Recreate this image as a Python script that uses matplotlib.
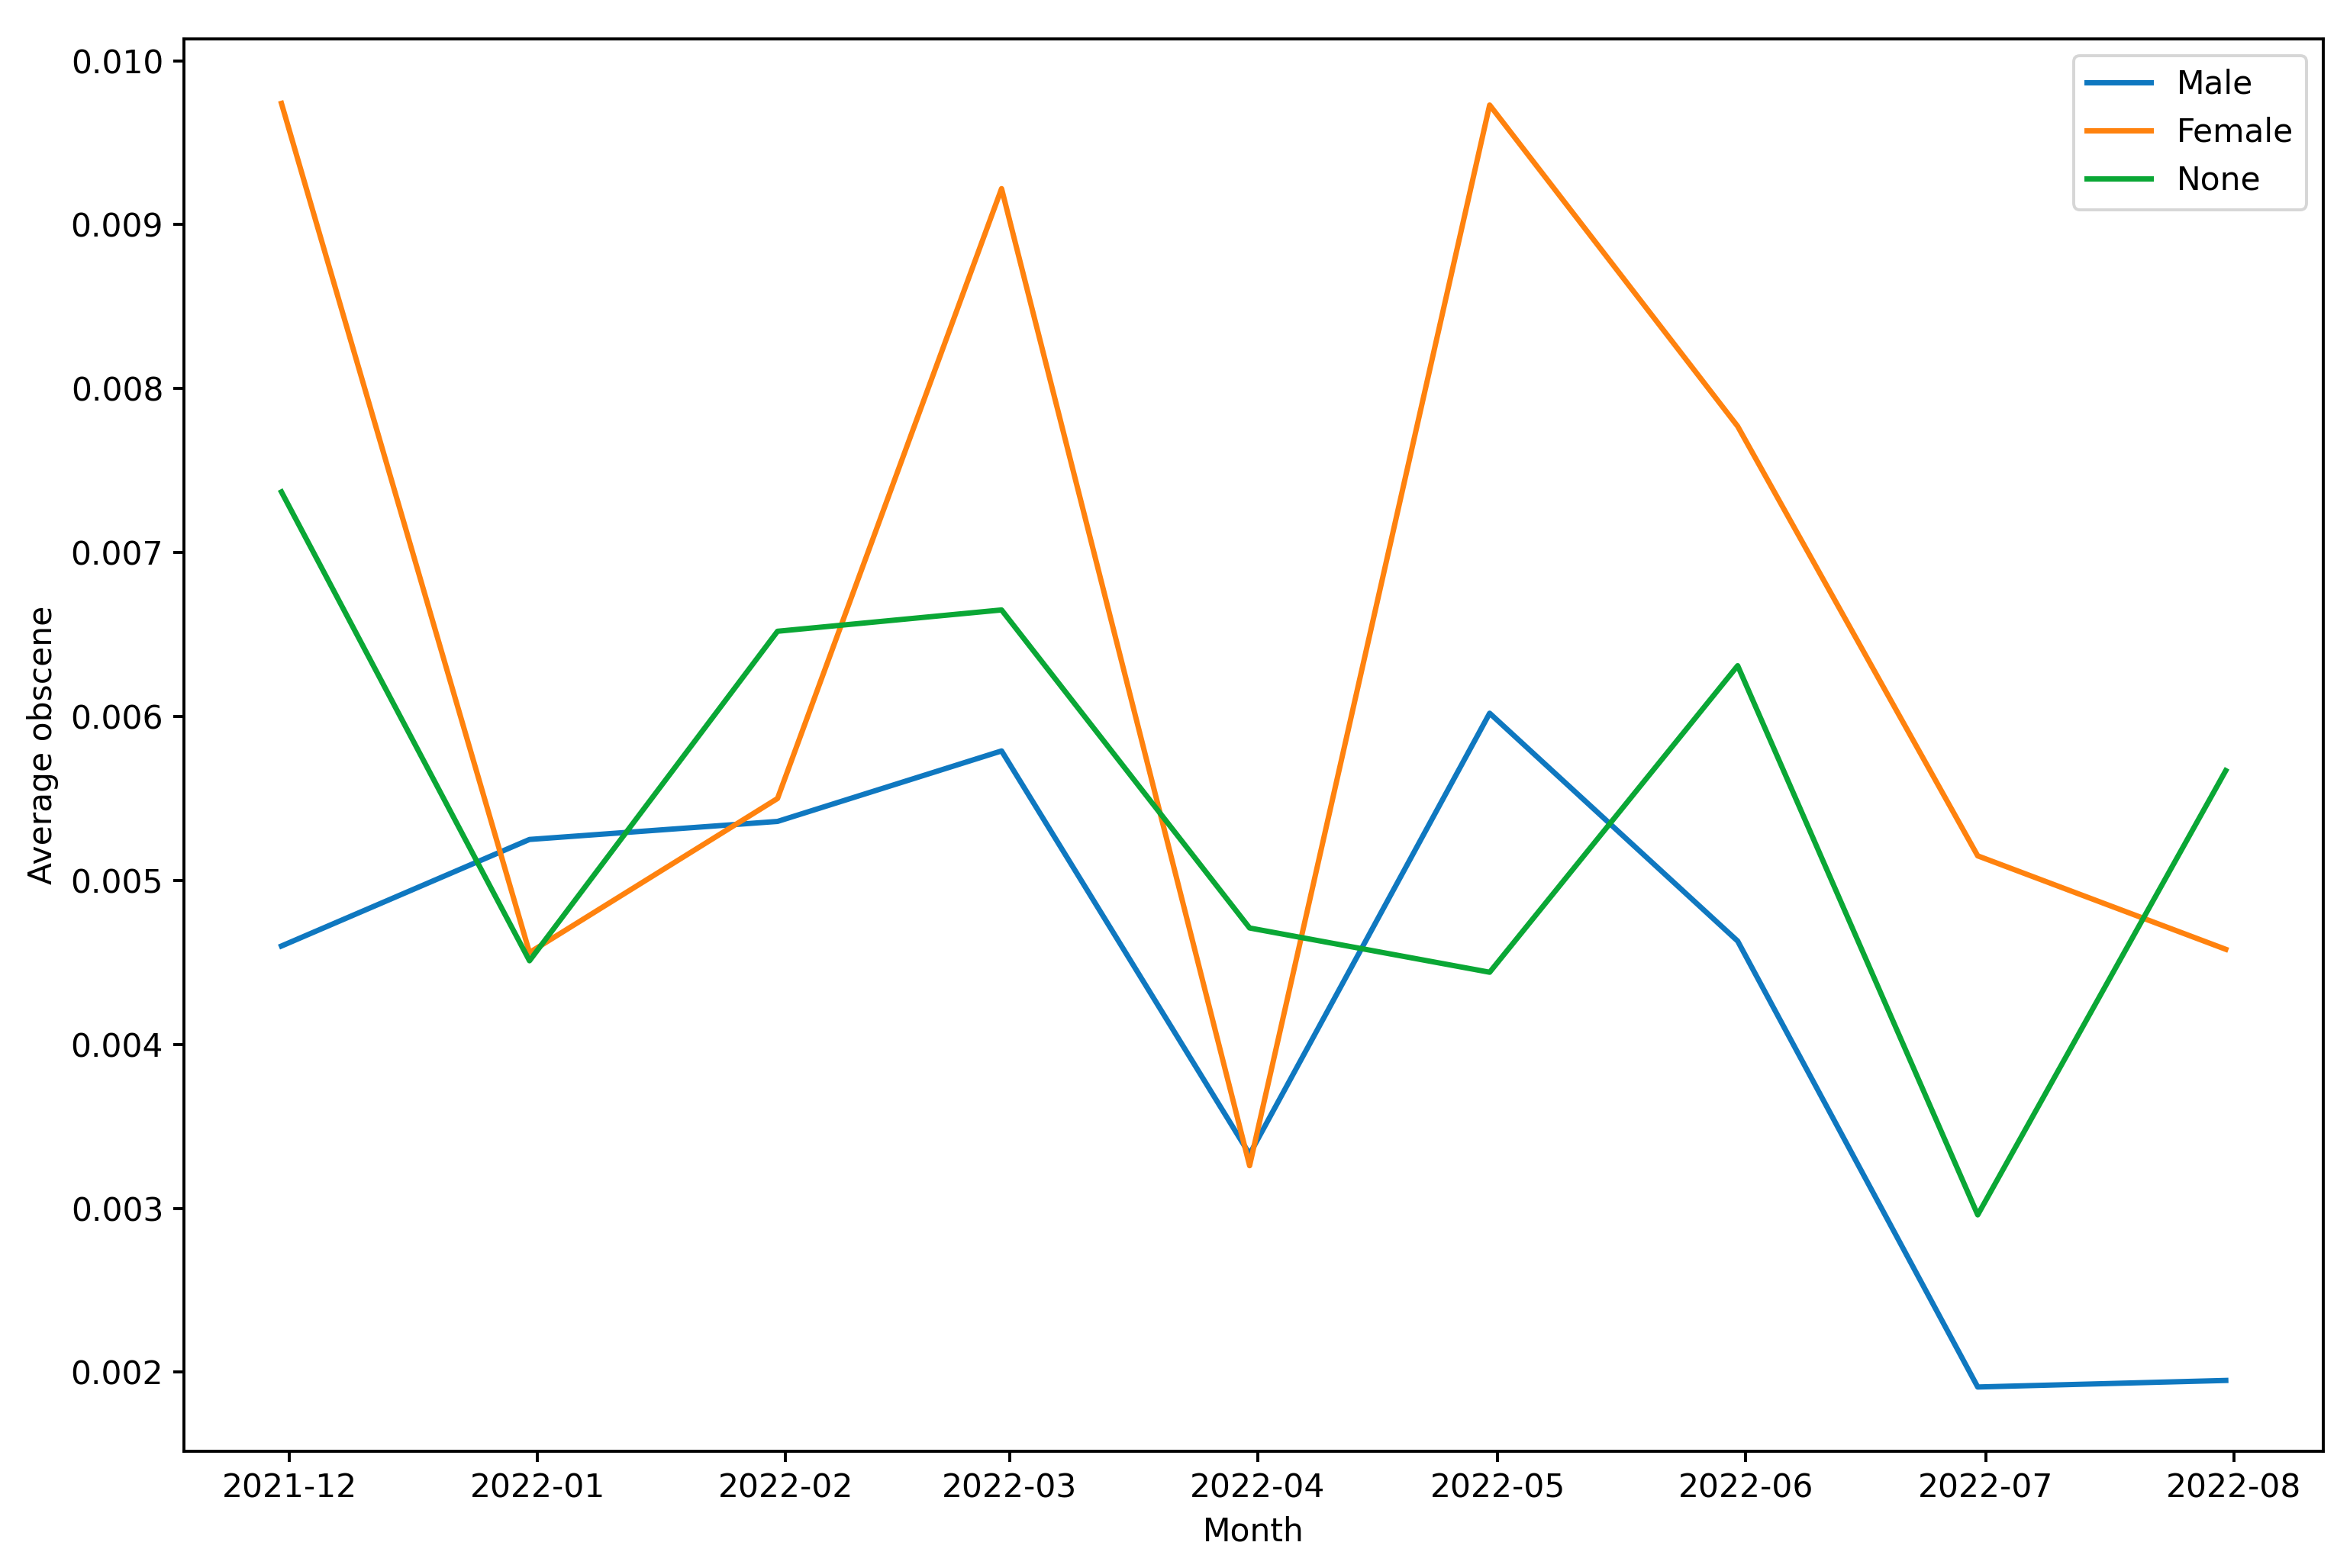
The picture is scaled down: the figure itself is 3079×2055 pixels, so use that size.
import matplotlib
matplotlib.use("Agg")
import matplotlib.pyplot as plt
import matplotlib.dates as mdates
import pandas as pd

# oy oxiri sanalari (resample('M') natijasi)
oylar = pd.to_datetime(["2021-11-30", "2021-12-31", "2022-01-31", "2022-02-28",
                        "2022-03-31", "2022-04-30", "2022-05-31", "2022-06-30",
                        "2022-07-31"])

male = [0.00460, 0.00525, 0.00536, 0.00579, 0.00333, 0.00602, 0.00463, 0.00191, 0.00195]
female = [0.00974, 0.00456, 0.00550, 0.00922, 0.00326, 0.00973, 0.00777, 0.00515, 0.00458]
none_ = [0.00737, 0.00451, 0.00652, 0.00665, 0.00471, 0.00444, 0.00631, 0.00296, 0.00567]

plt.rcParams["font.size"] = 10.9
plt.rcParams["axes.linewidth"] = 1.0
plt.rcParams["xtick.major.width"] = 1.0
plt.rcParams["ytick.major.width"] = 1.0

fig = plt.figure(figsize=(3079 / 280, 2055 / 280), dpi=280)
ax = fig.add_axes([0.0784, 0.0745, 0.9101, 0.9005])

ax.plot(oylar, male, color="#0f78c0", label="Male", linewidth=1.8)
ax.plot(oylar, female, color="#ff820e", label="Female", linewidth=1.8)
ax.plot(oylar, none_, color="#0aa735", label="None", linewidth=1.8)

ax.xaxis.set_major_locator(mdates.MonthLocator())
ax.xaxis.set_major_formatter(mdates.DateFormatter("%Y-%m"))
ax.set_xlabel("Month")
ax.set_ylabel("Average obscene")
ax.legend(loc="upper right")

fig.savefig("out.png", dpi=280)
plt.close(fig)
